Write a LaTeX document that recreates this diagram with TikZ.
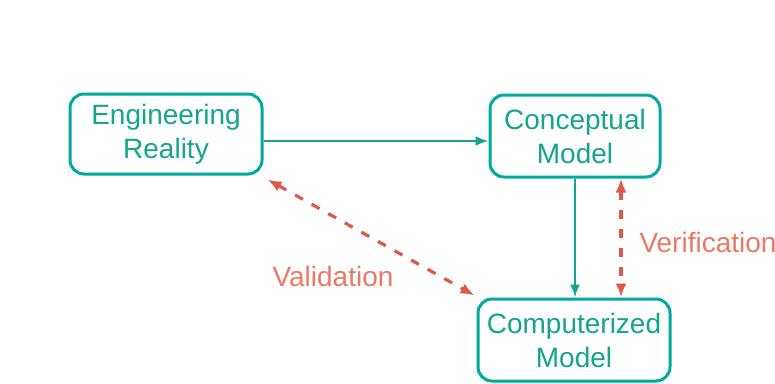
\documentclass[tikz,border=0pt]{standalone}
\usepackage{fontspec}
\setmainfont{Liberation Sans}
\usetikzlibrary{arrows.meta}

\definecolor{boxcolor}{RGB}{0,170,160}
\definecolor{textcolor}{RGB}{20,165,140}
\definecolor{checkcolor}{RGB}{222,90,70}
\definecolor{labelcolor}{RGB}{238,120,100}

\begin{document}
\begin{tikzpicture}[x=1pt,y=-1pt,
    box/.style={draw=boxcolor, line width=3pt, rounded corners=14pt, align=center,
      text=textcolor, font=\fontsize{28}{34}\selectfont, inner sep=0pt},
    flow/.style={draw=textcolor, line width=2.4pt, -{Latex[length=13pt,width=10pt]}},
    check/.style={draw=checkcolor, line width=3.2pt, dash pattern=on 9pt off 10pt,
      {Latex[length=14pt,width=11pt]}-{Latex[length=14pt,width=11pt]}},
    checklabel/.style={text=labelcolor, font=\fontsize{28}{34}\selectfont}]

      % Fix the page size
      \clip (0,0) rectangle (775,383);
      \fill[white] (0,0) rectangle (775,383);

      % Draw the three boxes
      \node[box, minimum width=192pt, minimum height=80pt] (reality) at (166,134) {Engineering\\Reality};
      \node[box, minimum width=170pt, minimum height=82pt] (concept) at (575,136) {Conceptual\\Model};
      \node[box, minimum width=192pt, minimum height=82pt] (computer) at (574,340) {Computerized\\Model};

      % Modelling arrows
      \draw[flow] ([yshift=-7pt]reality.east) -- ([yshift=-5pt]concept.west);
      \draw[flow] (concept.south) -- (concept.south |- computer.north);

      % Validation and verification
      \draw[check] ([shift={(4pt,-4pt)}]reality.south east) -- ([shift={(-2pt,2pt)}]computer.north west);
      \draw[check] ([xshift=46pt]concept.south) -- ([xshift=46pt]concept.south |- computer.north);
      \node[checklabel] (validation) at (333,276) {Validation};
      \node[checklabel, anchor=west] (verification) at (636,242) {Verification};
\end{tikzpicture}
\end{document}
